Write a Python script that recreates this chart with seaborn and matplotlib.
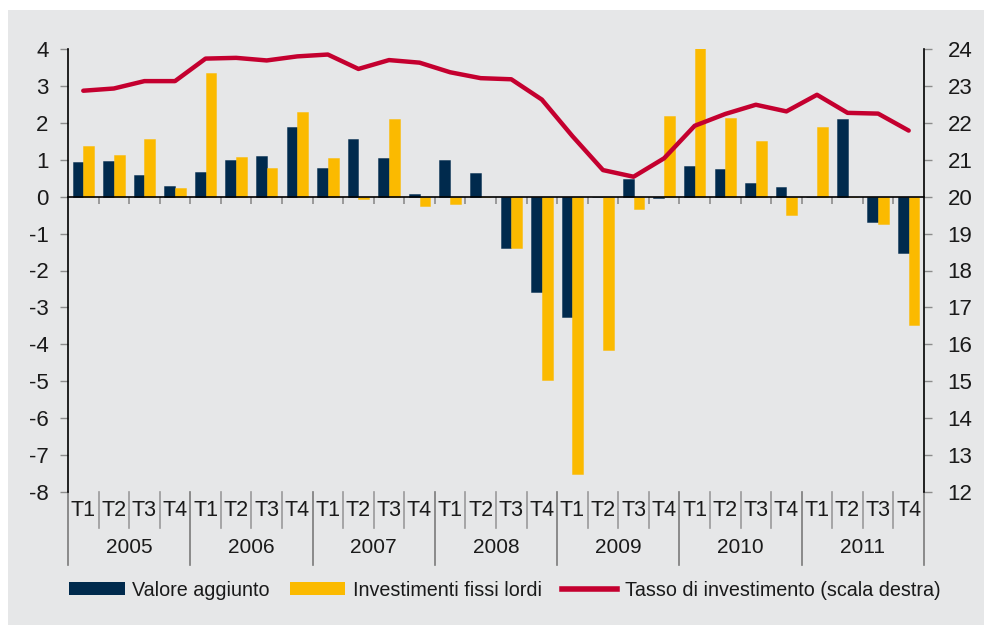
import numpy as np
import pandas as pd
import matplotlib
matplotlib.use("Agg")
import matplotlib.pyplot as plt
from matplotlib.patches import Patch, Rectangle
from matplotlib.lines import Line2D
import seaborn as sns

# data
years = ['2005', '2006', '2007', '2008', '2009', '2010', '2011']
quarters = ['T1', 'T2', 'T3', 'T4']
valore_aggiunto = [0.93, 0.97, 0.59, 0.29, 0.67, 1.00, 1.10, 1.90,
                   0.79, 1.57, 1.04, 0.08, 1.00, 0.65, -1.39, -2.57,
                   -3.26, 0.00, 0.47, -0.03, 0.84, 0.76, 0.36, 0.26,
                   -0.02, 2.10, -0.69, -1.52]
investimenti = [1.38, 1.14, 1.55, 0.24, 3.36, 1.07, 0.79, 2.28,
                1.04, -0.05, 2.10, -0.24, -0.19, 0.00, -1.40, -4.96,
                -7.52, -4.16, -0.34, 2.18, 4.05, 2.14, 1.52, -0.50,
                1.90, -0.01, -0.75, -3.47]
tasso = [22.87, 22.93, 23.13, 23.13, 23.74, 23.76, 23.69, 23.80,
         23.85, 23.46, 23.70, 23.63, 23.37, 23.21, 23.18, 22.63,
         21.64, 20.72, 20.54, 21.04, 21.92, 22.24, 22.49, 22.31,
         22.76, 22.27, 22.25, 21.79]

lbl_va = 'Valore aggiunto'
lbl_inv = 'Investimenti fissi lordi'
lbl_tasso = 'Tasso di investimento (scala destra)'

NAVY = '#002a4d'
GOLD = '#fbba00'
RED = '#c4002f'
BG = '#e6e7e8'

periods = [f'{y} {q}' for y in years for q in quarters]
df = pd.DataFrame({
    'periodo': periods * 2,
    'valore': valore_aggiunto + investimenti,
    'serie': [lbl_va] * len(periods) + [lbl_inv] * len(periods),
})

plt.rcParams['font.family'] = ['Liberation Sans', 'DejaVu Sans']
fig = plt.figure(figsize=(9.84, 6.25), dpi=100, facecolor='white')
fig.patches.append(Rectangle((8 / 984, 0), 1, 615 / 625, transform=fig.transFigure,
                             facecolor=BG, edgecolor='none', zorder=-10))
ax = fig.add_axes([0.0691, 0.2128, 0.8699, 0.7088])
ax.set_facecolor('none')

sns.barplot(data=df, x='periodo', y='valore', hue='serie', order=periods,
            palette=[NAVY, GOLD], saturation=1, width=0.7, dodge=True,
            legend=False, linewidth=0.6, ax=ax)
for p in ax.patches:
    p.set_edgecolor(matplotlib.colors.to_rgba(p.get_facecolor(), 0.55))

ax2 = ax.twinx()
sns.lineplot(x=np.arange(len(periods)), y=tasso, color=RED, linewidth=3.2,
             ax=ax2, solid_capstyle='round')

ax.set_xlim(-0.5, len(periods) - 0.5)
ax.set_ylim(-8, 4)
ax2.set_ylim(12, 24)
ax.set_yticks(range(-8, 5))
ax2.set_yticks(range(12, 25))
ax.set_xlabel('')
ax.set_ylabel('')
ax2.set_ylabel('')

# zero line carries the quarter tick marks
ax.spines['bottom'].set_position(('data', 0))
ax.spines['bottom'].set_color('black')
ax.spines['bottom'].set_linewidth(1.2)
ax.set_xticks(np.arange(0.5, len(periods) - 0.5, 1))
ax.set_xticklabels([])
ax.tick_params(axis='x', length=5, color='#8c8c8c', width=1.2)
for a in (ax, ax2):
    a.spines['top'].set_visible(False)
ax.spines['right'].set_visible(False)
ax2.spines['bottom'].set_visible(False)
ax2.spines['left'].set_visible(False)
ax.spines['left'].set_linewidth(1.2)
ax2.spines['right'].set_linewidth(1.2)
ax.tick_params(axis='y', length=6, color='#8c8c8c', width=1, pad=8,
               labelsize=16, labelcolor='#1a1a1a')
ax2.tick_params(axis='y', length=6, color='#8c8c8c', width=1, pad=11,
                labelsize=16, labelcolor='#1a1a1a')
ax.set_yticklabels([str(v) for v in range(-8, 5)])

# category axis under the plot: quarter labels and year groups
trans = ax.get_xaxis_transform()
for i in range(len(periods)):
    ax.text(i, -0.041, quarters[i % 4], transform=trans, ha='center', va='center',
            fontsize=15.5, color='#1a1a1a')
    b = i - 0.5
    if i % 4 == 0:
        ax.plot([b, b], [0, -0.165], transform=trans, color='#7a7a7a', lw=1.2, clip_on=False)
    else:
        ax.plot([b, b], [0, -0.081], transform=trans, color='#9a9a9a', lw=1.2, clip_on=False)
end = len(periods) - 0.5
ax.plot([end, end], [0, -0.165], transform=trans, color='#7a7a7a', lw=1.2, clip_on=False)
for k, y in enumerate(years):
    ax.text(4 * k + 1.5, -0.126, y, transform=trans, ha='center', va='center',
            fontsize=15, color='#1a1a1a')

handles = [Patch(facecolor=NAVY, edgecolor='none', label=lbl_va),
           Patch(facecolor=GOLD, edgecolor='none', label=lbl_inv),
           Line2D([], [], color=RED, lw=4, label=lbl_tasso)]
fig.legend(handles=handles, loc='center', bbox_to_anchor=(0.513, 0.056), ncol=3,
           frameon=False, fontsize=14.2, handlelength=2.8, handleheight=0.6,
           handletextpad=0.4, columnspacing=1.0, labelcolor='#1a1a1a')

fig.savefig('out.png', dpi=100, facecolor='white')
